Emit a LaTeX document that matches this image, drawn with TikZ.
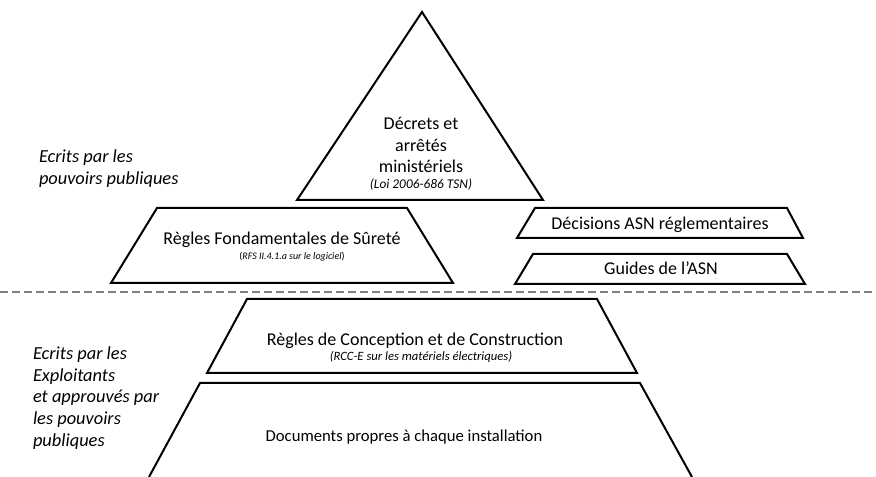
\documentclass[tikz,border=0pt]{standalone}
\usepackage{fontspec}
\setmainfont{Carlito}

\tikzset{every picture/.style={line width=1.5pt}}
\tikzset{
	txt/.style={font=\fontsize{13.5}{16}\selectfont, text height=9.5pt, text depth=2.8pt, inner sep=0pt},
	subtxt/.style={font=\fontsize{9.5}{11}\selectfont\itshape, text height=6.7pt, text depth=2pt, inner sep=0pt},
	sidetxt/.style={font=\fontsize{13.8}{16}\selectfont\itshape, text height=9.6pt, text depth=2.8pt, inner sep=0pt, anchor=west}}

\begin{document}
\begin{tikzpicture}[x=0.75pt,y=0.75pt,yscale=-1,xscale=1]
	\useasboundingbox (0,0) rectangle (876,477);

	%Shape: Triangle [id:decrets]
	\draw  [line join=miter] (422,12) -- (543,200) -- (297,200) -- cycle ;
	%Shape: Trapezoid [id:rfs]
	\draw   (111,283) -- (157,208) -- (407,208) -- (453,283) -- cycle ;
	%Shape: Trapezoid [id:decisions]
	\draw   (517,238) -- (535,208) -- (787,208) -- (803,238) -- cycle ;
	%Shape: Trapezoid [id:guides]
	\draw   (515,284) -- (533,254) -- (787,254) -- (805,284) -- cycle ;
	%Straight Lines [id:separation]
	\draw  [color={rgb, 255:red, 128; green, 128; blue, 128 }, line width=1.1pt, dash pattern=on 6pt off 3pt]  (0,292) -- (876,292) ;
	%Shape: Trapezoid [id:rcc]
	\draw   (207,373) -- (247,299) -- (597,299) -- (637,373) -- cycle ;
	%Shape: Trapezoid [id:documents]
	\draw   (149,477) -- (200,383) -- (640,383) -- (692,477) ;

	% Text Node
	\draw (421,125) node (decrets1) [txt]  {Décrets et};
	% Text Node
	\draw (421,147) node (decrets2) [txt]  {arrêtés};
	% Text Node
	\draw (421,168) node (decrets3) [txt]  {ministériels};
	% Text Node
	\draw (421,185) node (loi) [subtxt, font=\fontsize{10}{12}\selectfont\itshape]  {(Loi 2006-686 TSN)};
	% Text Node
	\draw (282,240) node (rfs) [txt]  {Règles Fondamentales de Sûreté};
	% Text Node
	\draw (292,256) node (rfssub) [subtxt, font=\fontsize{7.5}{9}\selectfont]  {(\textit{RFS II.4.1.a sur le logiciel})};
	% Text Node
	\draw (660,225) node (decisions) [txt]  {Décisions ASN réglementaires};
	% Text Node
	\draw (661,270) node (guides) [txt]  {Guides de l’ASN};
	% Text Node
	\draw (415,341) node (rcc) [txt]  {Règles de Conception et de Construction};
	% Text Node
	\draw (421,357) node (rccsub) [subtxt]  {(RCC-E sur les matériels électriques)};
	% Text Node
	\draw (404,437) node (documents) [txt, font=\fontsize{12.5}{15}\selectfont]  {Documents propres à chaque installation};

	% Text Node
	\draw (38,158) node (pp1) [sidetxt]  {Ecrits par les};
	% Text Node
	\draw (38,180) node (pp2) [sidetxt]  {pouvoirs publiques};
	% Text Node
	\draw (32,355) node (ex1) [sidetxt]  {Ecrits par les};
	% Text Node
	\draw (32,377) node (ex2) [sidetxt]  {Exploitants};
	% Text Node
	\draw (32,398) node (ex3) [sidetxt]  {et approuvés par};
	% Text Node
	\draw (32,420) node (ex4) [sidetxt]  {les pouvoirs};
	% Text Node
	\draw (32,442) node (ex5) [sidetxt]  {publiques};

\end{tikzpicture}
\end{document}
